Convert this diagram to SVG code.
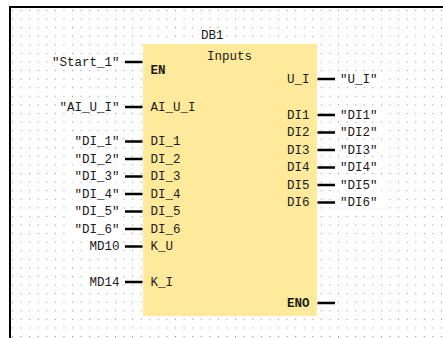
<svg xmlns="http://www.w3.org/2000/svg" width="443" height="338" viewBox="0 0 443 338">
<style>
text{font-family:"Liberation Mono","DejaVu Sans Mono",monospace;font-size:12.5px;fill:#1a1a1a}
.e{text-anchor:end}
.b{font-weight:bold}
.w{fill:#fff}
.wire{stroke:#000;stroke-width:2.5;fill:none}
</style>
<defs>
<pattern id="dots" x="12" y="10" width="8.58" height="8.58" patternUnits="userSpaceOnUse">
<rect x="0" y="0" width="1" height="1" fill="#8a8a8a"/>
</pattern>
</defs>
<rect width="443" height="338" fill="#fff"/>
<rect x="10" y="7" width="433" height="331" fill="url(#dots)"/>
<path d="M10,338 V7 H443" stroke="#000" stroke-width="2" fill="none"/>

<g id="block">
<rect x="143" y="44" width="174" height="272" fill="#FFE99A"/>
<rect x="199" y="29" width="25" height="13" class="w"/>
<text x="201" y="39">DB1</text>
<text x="207" y="60">Inputs</text>
<text x="150.5" y="74" class="b">EN</text>
<text x="150.5" y="110.5">AI_U_I</text>
<text x="150.5" y="145">DI_1</text>
<text x="150.5" y="162.5">DI_2</text>
<text x="150.5" y="180">DI_3</text>
<text x="150.5" y="197.5">DI_4</text>
<text x="150.5" y="215">DI_5</text>
<text x="150.5" y="232.5">DI_6</text>
<text x="150.5" y="250">K_U</text>
<text x="150.5" y="285.5">K_I</text>
<text x="309.5" y="82.5" class="e">U_I</text>
<text x="309.5" y="118.5" class="e">DI1</text>
<text x="309.5" y="136" class="e">DI2</text>
<text x="309.5" y="153.5" class="e">DI3</text>
<text x="309.5" y="171" class="e">DI4</text>
<text x="309.5" y="188.5" class="e">DI5</text>
<text x="309.5" y="206" class="e">DI6</text>
<text x="309.5" y="306.5" class="e b">ENO</text>
</g>

<g id="connectors">
<path class="wire" d="M125,62H142.5M125,107H142.5M125,141.5H142.5M125,159H142.5M125,176.5H142.5M125,194H142.5M125,211.5H142.5M125,229H142.5M125,246.5H142.5M125,282H142.5"/>
<path class="wire" d="M317.5,79H335M317.5,115H335M317.5,132.5H335M317.5,150H335M317.5,167.5H335M317.5,185H335M317.5,202.5H335M317.5,303H335"/>
</g>

<g id="op-start1"><rect x="48" y="55" width="74" height="12" class="w"/><text x="119.5" y="65.5" class="e">"Start_1"</text></g>
<g id="op-ai-u-i"><rect x="56" y="100" width="66" height="12" class="w"/><text x="119.5" y="110.5" class="e">"AI_U_I"</text></g>
<g id="op-di-1"><rect x="71" y="135" width="51" height="12" class="w"/><text x="119.5" y="145" class="e">"DI_1"</text></g>
<g id="op-di-2"><rect x="71" y="152.5" width="51" height="12" class="w"/><text x="119.5" y="162.5" class="e">"DI_2"</text></g>
<g id="op-di-3"><rect x="71" y="170" width="51" height="12" class="w"/><text x="119.5" y="180" class="e">"DI_3"</text></g>
<g id="op-di-4"><rect x="71" y="187.5" width="51" height="12" class="w"/><text x="119.5" y="197.5" class="e">"DI_4"</text></g>
<g id="op-di-5"><rect x="71" y="205" width="51" height="12" class="w"/><text x="119.5" y="215" class="e">"DI_5"</text></g>
<g id="op-di-6"><rect x="71" y="222.5" width="51" height="12" class="w"/><text x="119.5" y="232.5" class="e">"DI_6"</text></g>
<g id="op-md10"><rect x="86" y="240" width="36" height="12" class="w"/><text x="119.5" y="250" class="e">MD10</text></g>
<g id="op-md14"><rect x="86" y="275.5" width="36" height="12" class="w"/><text x="119.5" y="285.5" class="e">MD14</text></g>
<g id="op-u-i"><rect x="338" y="72.5" width="44" height="12" class="w"/><text x="340" y="82.5">"U_I"</text></g>
<g id="op-di1"><rect x="338" y="108.5" width="44" height="12" class="w"/><text x="340" y="118.5">"DI1"</text></g>
<g id="op-di2"><rect x="338" y="126" width="44" height="12" class="w"/><text x="340" y="136">"DI2"</text></g>
<g id="op-di3"><rect x="338" y="143.5" width="44" height="12" class="w"/><text x="340" y="153.5">"DI3"</text></g>
<g id="op-di4"><rect x="338" y="161" width="44" height="12" class="w"/><text x="340" y="171">"DI4"</text></g>
<g id="op-di5"><rect x="338" y="178.5" width="44" height="12" class="w"/><text x="340" y="188.5">"DI5"</text></g>
<g id="op-di6"><rect x="338" y="196" width="44" height="12" class="w"/><text x="340" y="206">"DI6"</text></g>
</svg>
